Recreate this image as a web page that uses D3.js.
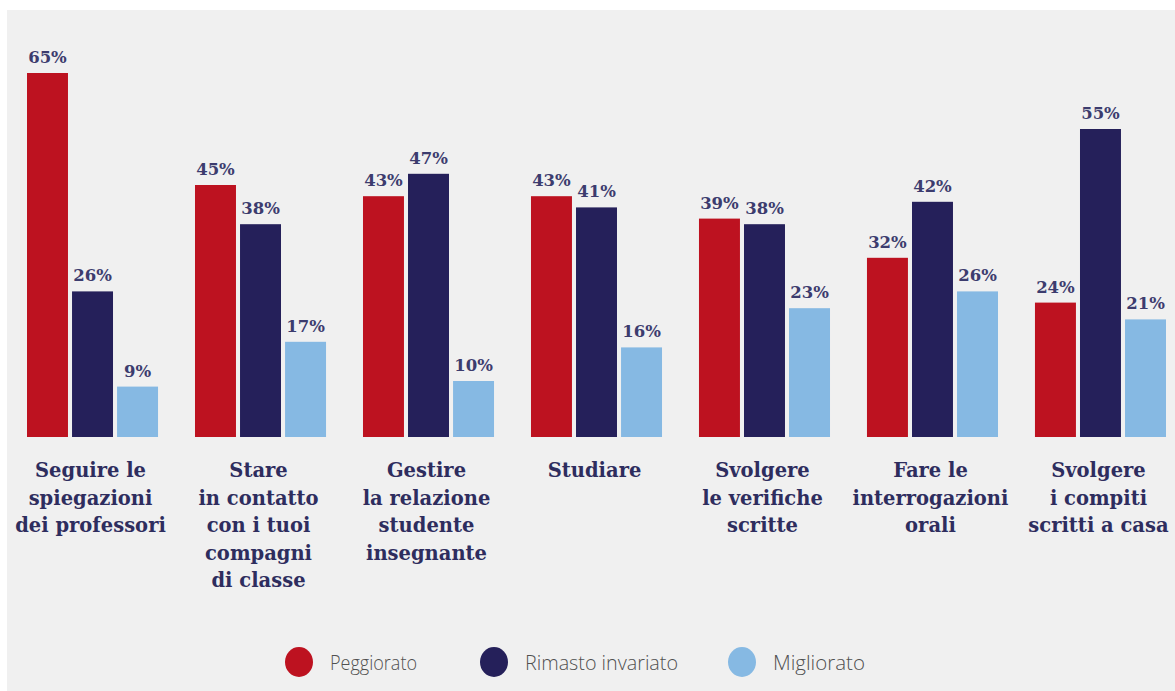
<!DOCTYPE html>
<html>
<head>
<meta charset="utf-8">
<script src="https://cdn.jsdelivr.net/npm/d3@7"></script>
<style>
  html, body { margin: 0; padding: 0; background: #fff; }
  svg { display: block; }
</style>
</head>
<body>
<div id="chart"></div>
<script>
const categories = [
  ["Seguire le", "spiegazioni", "dei professori"],
  ["Stare", "in contatto", "con i tuoi", "compagni", "di classe"],
  ["Gestire", "la relazione", "studente", "insegnante"],
  ["Studiare"],
  ["Svolgere", "le verifiche", "scritte"],
  ["Fare le", "interrogazioni", "orali"],
  ["Svolgere", "i compiti", "scritti a casa"]
];
const seriesNames = ["Peggiorato", "Rimasto invariato", "Migliorato"];
const peggiorato = [65, 45, 43, 43, 39, 32, 24];
const invariato = [26, 38, 47, 41, 38, 42, 55];
const migliorato = [9, 17, 10, 16, 23, 26, 21];
const colors = ["#bd1220", "#25205a", "#86b9e3"];

const width = 1175, height = 691;
const seriesValues = [peggiorato, invariato, migliorato];

const svg = d3.select("#chart")
  .append("svg")
  .attr("width", width)
  .attr("height", height);

// grey panel
svg.append("rect")
  .attr("x", 7).attr("y", 10)
  .attr("width", width - 7).attr("height", height - 10)
  .attr("fill", "#f0f0f0");

const x0 = d3.scaleBand()
  .domain(d3.range(categories.length))
  .range([27, 1166])
  .paddingInner(0.22)
  .paddingOuter(0);

const x1 = d3.scaleBand()
  .domain(d3.range(seriesNames.length))
  .range([0, x0.bandwidth()])
  .paddingInner(0.09);

const y = d3.scaleLinear()
  .domain([0, 65])
  .range([437, 73]);

const rows = [];
categories.forEach((c, i) => {
  seriesValues.forEach((vals, s) => rows.push({ cat: i, s: s, v: vals[i] }));
});

const groups = svg.append("g");

groups.selectAll("rect.bar")
  .data(rows)
  .enter()
  .append("rect")
  .attr("class", "bar")
  .attr("x", d => x0(d.cat) + x1(d.s))
  .attr("y", d => y(d.v))
  .attr("width", x1.bandwidth())
  .attr("height", d => y(0) - y(d.v))
  .attr("fill", d => colors[d.s]);

groups.selectAll("text.val")
  .data(rows)
  .enter()
  .append("text")
  .attr("class", "val")
  .attr("x", d => x0(d.cat) + x1(d.s) + x1.bandwidth() / 2)
  .attr("y", d => y(d.v) - 10)
  .attr("text-anchor", "middle")
  .attr("font-family", "DejaVu Serif")
  .attr("font-weight", "bold")
  .attr("font-size", 16.5)
  .attr("fill", "#3c3c6e")
  .text(d => d.v + "%");

// category labels
const catLabels = svg.append("g")
  .selectAll("text")
  .data(categories)
  .enter()
  .append("text")
  .attr("x", (d, i) => x0(i) + x0.bandwidth() / 2 - 2)
  .attr("y", 477)
  .attr("text-anchor", "middle")
  .attr("font-family", "DejaVu Serif")
  .attr("font-weight", "bold")
  .attr("font-size", 19.5)
  .attr("fill", "#2e2d5e");

catLabels.selectAll("tspan")
  .data(d => d)
  .enter()
  .append("tspan")
  .attr("x", function() { return d3.select(this.parentNode).attr("x"); })
  .attr("dy", (d, i) => i === 0 ? 0 : 27.5)
  .text(d => d);

// legend
const legendX = [299, 494, 742];
const legendW = [87, 153, 92];
const legend = svg.append("g")
  .selectAll("g")
  .data(seriesNames)
  .enter()
  .append("g")
  .attr("transform", (d, i) => `translate(${legendX[i]},662)`);

legend.append("ellipse")
  .attr("rx", 14)
  .attr("ry", 15)
  .attr("fill", (d, i) => colors[i]);

legend.append("text")
  .attr("x", 31)
  .attr("y", 8)
  .attr("font-family", "Open Sans")
  .attr("font-weight", 300)
  .attr("font-size", 20)
  .attr("fill", "#505050")
  .attr("textLength", (d, i) => legendW[i])
  .attr("lengthAdjust", "spacingAndGlyphs")
  .text(d => d);
</script>
</body>
</html>
